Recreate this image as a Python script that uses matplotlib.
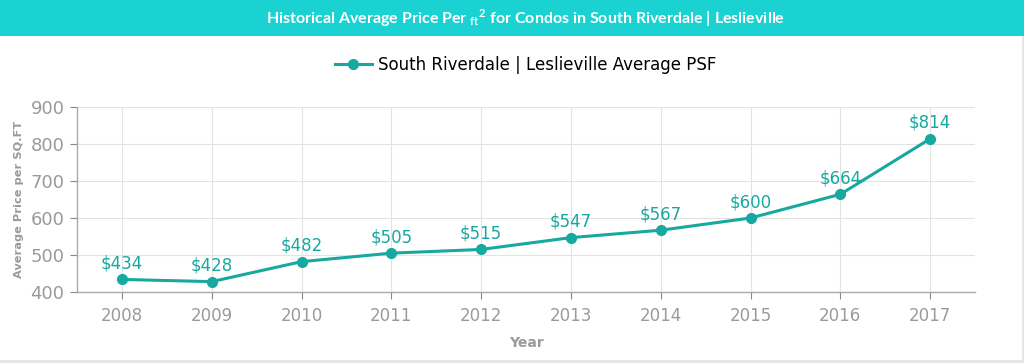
import numpy as np
import matplotlib.pyplot as plt
from matplotlib.patches import Rectangle

years = ['2008', '2009', '2010', '2011', '2012', '2013', '2014', '2015', '2016', '2017']
psf = [434, 428, 482, 505, 515, 547, 567, 600, 664, 814]
y_ticks = [400, 500, 600, 700, 800, 900]

teal = '#17a89f'
grey = '#9a9a9a'

fig = plt.figure(figsize=(10.24, 3.63), dpi=100)
fig.patch.set_facecolor('white')

# title banner
fig.patches.append(Rectangle((0, 1 - 36 / 363), 1, 36 / 363, transform=fig.transFigure,
                             facecolor='#1ad2d2', edgecolor='none', zorder=0))
fig.text(0.513, 1 - 18 / 363,
         r'Historical Average Price Per $\mathregular{_{ft}}^{\mathregular{2}}$ for Condos in South Riverdale | Leslieville',
         color='white', fontsize=11.5, fontweight='bold', family='Lato',
         ha='center', va='center')
# bottom strip and right border
fig.patches.append(Rectangle((0, 0), 1, 3 / 363, transform=fig.transFigure,
                             facecolor='#e6e6e6', edgecolor='none', zorder=0))
fig.patches.append(Rectangle((1 - 2 / 1024, 0), 2 / 1024, 1 - 36 / 363, transform=fig.transFigure,
                             facecolor='#e6e6e6', edgecolor='none', zorder=0))

ax = fig.add_axes([77 / 1024, 1 - 292 / 363, (975 - 77) / 1024, (292 - 107) / 363])
x = np.arange(len(years))
ax.plot(x, psf, color=teal, lw=2.2, marker='o', ms=7,
        label='South Riverdale | Leslieville Average PSF', zorder=3, clip_on=False)

for xi, v in zip(x, psf):
    ax.annotate('\\$%d' % v, (xi, v), xytext=(0, 5), textcoords='offset points',
                ha='center', va='bottom', color=teal, fontsize=12)

ax.set_xlim(-0.5, len(years) - 0.5)
ax.set_ylim(400, 900)
ax.set_xticks(x)
ax.set_xticklabels(years)
ax.set_yticks(y_ticks)
ax.tick_params(axis='x', colors='#888888', labelcolor=grey, labelsize=12, length=5, pad=6)
ax.tick_params(axis='y', colors='#888888', labelcolor=grey, labelsize=13, length=5, pad=4)
ax.grid(True, color='#e3e3e3', lw=0.8)
ax.set_axisbelow(True)
for s in ['top', 'right']:
    ax.spines[s].set_visible(False)
for s in ['left', 'bottom']:
    ax.spines[s].set_color('#aaaaaa')
    ax.spines[s].set_linewidth(1)

ax.set_xlabel('Year', color=grey, fontsize=10, fontweight='bold', labelpad=8)
ax.set_ylabel('Average Price per SQ.FT', color=grey, fontsize=8.2, fontweight='bold', labelpad=5)

ax.legend(loc='lower center', bbox_to_anchor=(0.5, 1.1), frameon=False,
          fontsize=12, handlelength=2.2, handletextpad=0.4)

fig.savefig('out.png', dpi=100)
